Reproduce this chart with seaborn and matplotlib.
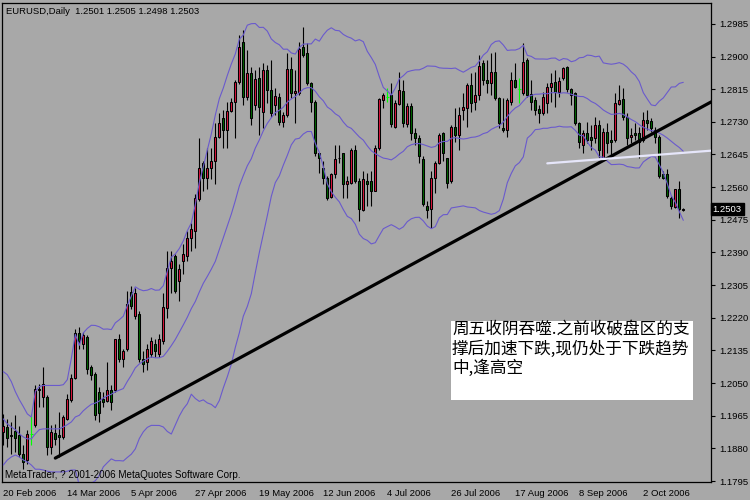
import numpy as np
import pandas as pd
import matplotlib
matplotlib.use("Agg")
import matplotlib.pyplot as plt
import seaborn as sns
from matplotlib.patches import Rectangle

# ---------------- data ----------------
symbol = "EURUSD,Daily"
start_date = "2006-02-20"

opens = [1.1923, 1.1936, 1.1915, 1.1926, 1.1915, 1.1866, 1.1850, 1.1918, 1.1942, 1.2036,
         1.2015, 1.2015, 1.1884, 1.1921, 1.1915, 1.1910, 1.1957, 1.2007, 1.2064, 1.2180,
         1.2153, 1.2169, 1.2091, 1.2075, 1.2028, 1.2010, 1.2004, 1.2033, 1.2033, 1.2164,
         1.2114, 1.2140, 1.2287, 1.2224, 1.2229, 1.2114, 1.2106, 1.2127, 1.2153, 1.2127,
         1.2159, 1.2245, 1.2350, 1.2381, 1.2316, 1.2368, 1.2381, 1.2428, 1.2446, 1.2530,
         1.2624, 1.2585, 1.2611, 1.2629, 1.2690, 1.2739, 1.2710, 1.2758, 1.2781, 1.2833,
         1.2938, 1.2794, 1.2857, 1.2773, 1.2844, 1.2755, 1.2865, 1.2812, 1.2773, 1.2794,
         1.2729, 1.2747, 1.2867, 1.2805, 1.2805, 1.2925, 1.2909, 1.2831, 1.2781, 1.2648,
         1.2611, 1.2585, 1.2535, 1.2595, 1.2635, 1.2648, 1.2569, 1.2572, 1.2656, 1.2577,
         1.2501, 1.2577, 1.2577, 1.2551, 1.2661, 1.2786, 1.2794, 1.2799, 1.2716, 1.2776,
         1.2810, 1.2724, 1.2771, 1.2700, 1.2687, 1.2632, 1.2512, 1.2504, 1.2585, 1.2624,
         1.2700, 1.2635, 1.2577, 1.2716, 1.2695, 1.2760, 1.2765, 1.2826, 1.2781, 1.2799,
         1.2883, 1.2839, 1.2831, 1.2860, 1.2792, 1.2713, 1.2708, 1.2781, 1.2839, 1.2815,
         1.2805, 1.2891, 1.2802, 1.2786, 1.2763, 1.2752, 1.2779, 1.2820, 1.2833, 1.2807,
         1.2844, 1.2872, 1.2815, 1.2805, 1.2726, 1.2669, 1.2700, 1.2690, 1.2687, 1.2721,
         1.2635, 1.2703, 1.2682, 1.2682, 1.2776, 1.2789, 1.2742, 1.2690, 1.2700, 1.2700,
         1.2682, 1.2734, 1.2731, 1.2708, 1.2690, 1.2595, 1.2595, 1.2533, 1.2509, 1.2554,
         1.2501]
highs = [1.1970, 1.1957, 1.1949, 1.1968, 1.1939, 1.1889, 1.1929, 1.1970, 1.2046, 1.2049,
         1.2091, 1.2020, 1.1942, 1.1944, 1.1976, 1.1968, 1.2023, 1.2075, 1.2190, 1.2195,
         1.2182, 1.2174, 1.2098, 1.2080, 1.2041, 1.2028, 1.2104, 1.2046, 1.2166, 1.2177,
         1.2140, 1.2289, 1.2302, 1.2297, 1.2237, 1.2133, 1.2151, 1.2169, 1.2164, 1.2177,
         1.2284, 1.2394, 1.2394, 1.2386, 1.2360, 1.2412, 1.2446, 1.2467, 1.2543, 1.2687,
         1.2629, 1.2663, 1.2663, 1.2726, 1.2752, 1.2760, 1.2781, 1.2792, 1.2839, 1.2956,
         1.2969, 1.2917, 1.2872, 1.2865, 1.2872, 1.2883, 1.2878, 1.2891, 1.2818, 1.2805,
         1.2755, 1.2909, 1.2899, 1.2865, 1.2938, 1.2977, 1.2935, 1.2833, 1.2786, 1.2650,
         1.2629, 1.2590, 1.2598, 1.2669, 1.2669, 1.2650, 1.2590, 1.2661, 1.2669, 1.2585,
         1.2603, 1.2597, 1.2603, 1.2669, 1.2792, 1.2805, 1.2818, 1.2831, 1.2786, 1.2860,
         1.2839, 1.2779, 1.2779, 1.2713, 1.2695, 1.2642, 1.2525, 1.2603, 1.2629, 1.2700,
         1.2703, 1.2637, 1.2721, 1.2765, 1.2768, 1.2805, 1.2831, 1.2857, 1.2860, 1.2904,
         1.2891, 1.2891, 1.2909, 1.2912, 1.2794, 1.2792, 1.2792, 1.2860, 1.2883, 1.2844,
         1.2935, 1.2896, 1.2839, 1.2794, 1.2773, 1.2807, 1.2831, 1.2857, 1.2865, 1.2846,
         1.2872, 1.2875, 1.2818, 1.2807, 1.2729, 1.2708, 1.2729, 1.2721, 1.2742, 1.2734,
         1.2713, 1.2726, 1.2708, 1.2805, 1.2826, 1.2818, 1.2752, 1.2713, 1.2726, 1.2716,
         1.2755, 1.2760, 1.2739, 1.2716, 1.2695, 1.2603, 1.2608, 1.2538, 1.2556, 1.2577,
         1.2505]
lows = [1.1889, 1.1884, 1.1866, 1.1871, 1.1858, 1.1827, 1.1840, 1.1889, 1.1936, 1.1989,
        1.1989, 1.1863, 1.1866, 1.1889, 1.1858, 1.1905, 1.1955, 1.2002, 1.2062, 1.2138,
        1.2140, 1.2075, 1.2059, 1.1955, 1.1949, 1.1989, 1.2002, 1.1981, 1.2028, 1.2106,
        1.2093, 1.2133, 1.2242, 1.2216, 1.2106, 1.2080, 1.2085, 1.2117, 1.2119, 1.2117,
        1.2153, 1.2219, 1.2284, 1.2284, 1.2263, 1.2334, 1.2368, 1.2394, 1.2402, 1.2525,
        1.2551, 1.2556, 1.2582, 1.2569, 1.2687, 1.2661, 1.2661, 1.2755, 1.2687, 1.2828,
        1.2773, 1.2786, 1.2721, 1.2760, 1.2695, 1.2713, 1.2779, 1.2742, 1.2747, 1.2721,
        1.2716, 1.2742, 1.2792, 1.2726, 1.2799, 1.2899, 1.2826, 1.2755, 1.2642, 1.2598,
        1.2569, 1.2527, 1.2533, 1.2585, 1.2622, 1.2533, 1.2533, 1.2569, 1.2572, 1.2472,
        1.2499, 1.2512, 1.2512, 1.2551, 1.2656, 1.2765, 1.2781, 1.2716, 1.2713, 1.2773,
        1.2716, 1.2716, 1.2682, 1.2669, 1.2622, 1.2512, 1.2480, 1.2454, 1.2546, 1.2620,
        1.2629, 1.2559, 1.2572, 1.2677, 1.2656, 1.2734, 1.2716, 1.2755, 1.2760, 1.2786,
        1.2826, 1.2805, 1.2799, 1.2786, 1.2713, 1.2703, 1.2690, 1.2773, 1.2818, 1.2779,
        1.2799, 1.2794, 1.2760, 1.2747, 1.2726, 1.2747, 1.2752, 1.2781, 1.2768, 1.2794,
        1.2839, 1.2807, 1.2773, 1.2721, 1.2663, 1.2648, 1.2674, 1.2656, 1.2674, 1.2635,
        1.2629, 1.2648, 1.2637, 1.2677, 1.2773, 1.2734, 1.2669, 1.2674, 1.2682, 1.2637,
        1.2677, 1.2708, 1.2703, 1.2674, 1.2585, 1.2582, 1.2533, 1.2504, 1.2507, 1.2480,
        1.2498]
closes = [1.1939, 1.1908, 1.1913, 1.1908, 1.1866, 1.1845, 1.1918, 1.1918, 1.2036, 1.2031,
          1.2049, 1.1884, 1.1923, 1.1905, 1.1910, 1.1962, 1.2010, 1.2064, 1.2180, 1.2159,
          1.2174, 1.2088, 1.2072, 1.1968, 1.1973, 1.2002, 1.2031, 1.2002, 1.2164, 1.2114,
          1.2133, 1.2255, 1.2251, 1.2284, 1.2114, 1.2101, 1.2140, 1.2159, 1.2133, 1.2164,
          1.2248, 1.2350, 1.2368, 1.2289, 1.2347, 1.2386, 1.2428, 1.2452, 1.2533, 1.2611,
          1.2585, 1.2611, 1.2629, 1.2690, 1.2726, 1.2708, 1.2758, 1.2781, 1.2833, 1.2925,
          1.2794, 1.2857, 1.2739, 1.2841, 1.2768, 1.2865, 1.2812, 1.2752, 1.2797, 1.2729,
          1.2747, 1.2867, 1.2805, 1.2810, 1.2920, 1.2904, 1.2831, 1.2781, 1.2648, 1.2637,
          1.2585, 1.2533, 1.2595, 1.2632, 1.2637, 1.2569, 1.2577, 1.2656, 1.2577, 1.2504,
          1.2580, 1.2569, 1.2551, 1.2663, 1.2789, 1.2799, 1.2794, 1.2724, 1.2779, 1.2812,
          1.2726, 1.2771, 1.2700, 1.2687, 1.2642, 1.2517, 1.2501, 1.2585, 1.2624, 1.2695,
          1.2650, 1.2572, 1.2716, 1.2695, 1.2747, 1.2768, 1.2826, 1.2779, 1.2799, 1.2875,
          1.2839, 1.2831, 1.2860, 1.2792, 1.2726, 1.2708, 1.2786, 1.2839, 1.2820, 1.2815,
          1.2886, 1.2799, 1.2781, 1.2760, 1.2752, 1.2794, 1.2820, 1.2831, 1.2807, 1.2836,
          1.2870, 1.2815, 1.2799, 1.2726, 1.2677, 1.2700, 1.2684, 1.2684, 1.2721, 1.2656,
          1.2703, 1.2674, 1.2677, 1.2779, 1.2786, 1.2742, 1.2687, 1.2697, 1.2697, 1.2677,
          1.2734, 1.2726, 1.2713, 1.2690, 1.2590, 1.2585, 1.2538, 1.2512, 1.2554, 1.2504,
          1.2503]

# Bollinger band values before the 20-bar window is complete
bb_upper_head = [1.2080, 1.2072, 1.2054, 1.2028, 1.2007, 1.1989, 1.1970, 1.1962, 1.2028, 1.2041,
                 1.2044, 1.2044, 1.2044, 1.2044, 1.2044, 1.2046, 1.2059, 1.2114, 1.2177]
bb_mid_head = [1.1957, 1.1944, 1.1936, 1.1929, 1.1918, 1.1910, 1.1905, 1.1905, 1.1918, 1.1929,
               1.1931, 1.1931, 1.1931, 1.1931, 1.1931, 1.1936, 1.1942, 1.1949, 1.1962]
bb_lower_head = [1.1837, 1.1850, 1.1858, 1.1863, 1.1858, 1.1850, 1.1845, 1.1837, 1.1826, 1.1826,
                 1.1824, 1.1821, 1.1819, 1.1819, 1.1819, 1.1819, 1.1821, 1.1824, 1.1824]
bb_period = 20
bb_deviation = 2

# trend lines (bar index, price)
trend_bars = [13, 177]
trend_prices = [1.1855, 1.2782]
support_bars = [136, 177]
support_prices = [1.2622, 1.2655]

price_ticks = [1.1795, 1.1880, 1.1965, 1.2050, 1.2135, 1.2220, 1.2305, 1.2390,
               1.2475, 1.2560, 1.2645, 1.2730, 1.2815, 1.2900, 1.2985]
date_tick_labels = ["20 Feb 2006", "14 Mar 2006", "5 Apr 2006", "27 Apr 2006",
                    "19 May 2006", "12 Jun 2006", "4 Jul 2006", "26 Jul 2006",
                    "17 Aug 2006", "8 Sep 2006", "2 Oct 2006"]

note_lines = ["周五收阴吞噬.之前收破盘区的支",
              "撑后加速下跌,现仍处于下跌趋势",
              "中,逢高空"]
footer = "MetaTrader, ? 2001-2006 MetaQuotes Software Corp."

# ---------------- style ----------------
BG = "#A8A8A8"
BULL = "#DC143C"
BEAR = "#006400"
DOJI = "#00FF00"
BAND = "#6A5ACD"

sns.set_style("white")
plt.rcParams["font.family"] = ["Liberation Sans", "DejaVu Sans"]
plt.rcParams["axes.facecolor"] = BG
plt.rcParams["figure.facecolor"] = BG

fig = plt.figure(figsize=(7.5, 5), dpi=100)
ax = fig.add_axes([2 / 750, 1 - 482.3 / 500, 708.5 / 750, 479.6 / 500])
ax.set_facecolor(BG)

o = np.array(opens); h = np.array(highs); l = np.array(lows); c = np.array(closes)
n = len(c)
x = np.arange(n)
dates = pd.bdate_range(start_date, periods=n)

bull = c > o
bear = c < o
doji = c == o
solid = ~doji

# wicks
ax.vlines(x[solid], l[solid], h[solid], color="black", lw=0.8, zorder=3)
# bodies
ax.bar(x[bull], (c - o)[bull], bottom=o[bull], width=0.5, color=BULL,
       edgecolor="black", linewidth=0.75, zorder=4)
ax.bar(x[bear], (o - c)[bear], bottom=c[bear], width=0.5, color=BEAR,
       edgecolor="black", linewidth=0.75, zorder=4)
# doji
ax.vlines(x[doji], l[doji], h[doji], color=DOJI, lw=0.8, zorder=4)
ax.hlines(o[doji], x[doji] - 0.45, x[doji] + 0.45, color=DOJI, lw=0.8, zorder=4)

# Bollinger bands
cs = pd.Series(c)
mid = cs.rolling(bb_period).mean()
sd = cs.rolling(bb_period).std(ddof=0)
upper = (mid + bb_deviation * sd).to_numpy()
lower = (mid - bb_deviation * sd).to_numpy()
mid = mid.to_numpy()
k = len(bb_mid_head)
upper[:k] = bb_upper_head
mid[:k] = bb_mid_head
lower[:k] = bb_lower_head
for band in (upper, mid, lower):
    sns.lineplot(x=x, y=band, ax=ax, color=BAND, lw=0.8, zorder=5)

# trend lines
sns.lineplot(x=trend_bars, y=trend_prices, ax=ax, color="black", lw=2.3, zorder=6)
sns.lineplot(x=support_bars, y=support_prices, ax=ax, color="#E6E6FA", lw=1.6, zorder=6)

ax.set_xlim(-0.33, 176.8)
ax.set_ylim(1.1792, 1.3040)

# axes / ticks
for s in ax.spines.values():
    s.set_color("black")
    s.set_linewidth(0.9)
ax.yaxis.tick_right()
ax.set_yticks(price_ticks)
ax.set_yticklabels([f"{p:.4f}" for p in price_ticks])
tick_pos = [dates.get_loc(pd.to_datetime(t, format="%d %b %Y")) for t in date_tick_labels]
ax.set_xticks(tick_pos)
ax.set_xticklabels(date_tick_labels)
for t in ax.get_xticklabels():
    t.set_ha("left")
ax.tick_params(axis="both", direction="out", length=3, width=0.8, color="black",
               labelsize=6.8, labelcolor="black", pad=2)
ax.tick_params(axis="y", pad=3)
ax.set_xlabel("")
ax.set_ylabel("")
ax.grid(False)

# current price label
ax.text(1.003, c[-1], f"{c[-1]:.4f}", transform=ax.get_yaxis_transform(),
        ha="left", va="center", color="white", fontsize=6.8,
        bbox=dict(boxstyle="square,pad=0.2", fc="black", ec="black"), clip_on=False, zorder=10)

# header & footer
fig.text(6 / 750, 1 - 11 / 500,
         f"{symbol}  {o[-1]:.4f} {h[-1]:.4f} {l[-1]:.4f} {c[-1]:.4f}",
         ha="left", va="center", fontsize=6.8, color="black")
fig.text(5 / 750, 1 - 475 / 500, footer, ha="left", va="center", fontsize=7.1, color="black")

# note box
fig.add_artist(Rectangle((451 / 750, 1 - 400 / 500), 242 / 750, 79 / 500,
                         transform=fig.transFigure, facecolor="white", edgecolor="none",
                         zorder=10))
for j, line in enumerate(note_lines):
    fig.text(452 / 750, 1 - (329.5 + 19.5 * j) / 500, line, ha="left", va="center",
             fontsize=12.0, color="black", family=["Noto Sans CJK SC", "DejaVu Sans"],
             zorder=11)

fig.savefig("out.png", dpi=100, facecolor=BG)
